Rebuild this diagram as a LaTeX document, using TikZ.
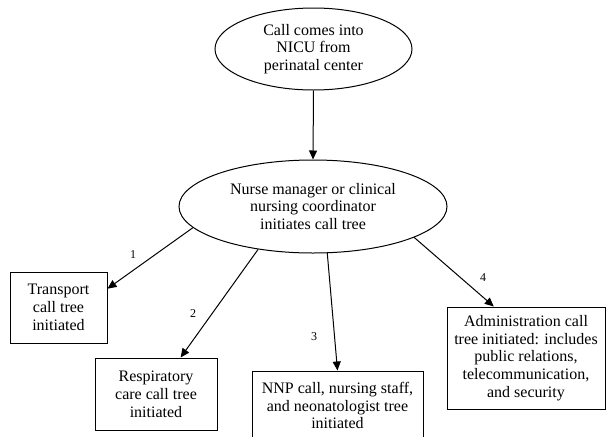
\documentclass[tikz,border=0pt]{standalone}
\usepackage{fontspec}
\setmainfont{Liberation Serif}
\usetikzlibrary{shapes.geometric,arrows.meta}
\begin{document}
\begin{tikzpicture}[x=1pt,y=-1pt,
  every node/.style={font=\fontsize{16}{17.8}\selectfont, align=center, inner sep=0pt},
  oval/.style={draw, ellipse, line width=1pt},
  box/.style={draw, rectangle, line width=1pt},
  num/.style={font=\fontsize{12}{14}\selectfont},
  conn/.style={line width=1pt, -{Triangle[length=9pt,width=8pt]}}]
\useasboundingbox (0,0) rectangle (606,437);
\node[oval, minimum width=197pt, minimum height=82pt] (e1) at (313.5,49) {Call comes into\\NICU from\\perinatal center};
\node[oval, minimum width=268pt, minimum height=93pt] (e2) at (313,206.5) {Nurse manager or clinical\\nursing coordinator\\initiates call tree};
\node[box, minimum width=97pt, minimum height=71pt] (t) at (58.5,307.5) {Transport\\call tree\\initiated};
\node[box, minimum width=122pt, minimum height=72pt] (r) at (156,394) {Respiratory\\care call tree\\initiated};
\node[box, minimum width=171pt, minimum height=69pt] (n) at (337.5,405.5) {NNP call, nursing staff,\\and neonatologist tree\\initiated};
\node[box, minimum width=158pt, minimum height=102pt] (a) at (526,358) {Administration call\\tree initiated: includes\\public relations,\\telecommunication,\\and security};
\node[num] (l1) at (133,255) {1};
\node[num] (l2) at (193,314) {2};
\node[num] (l3) at (314,337) {3};
\node[num] (l4) at (483,278) {4};
\draw[conn] (e1.south) -- (e2.north);
\draw[conn] (e2.190) -- (t.21);
\draw[conn] (e2.218) -- (r.56);
\draw[conn] (e2.287) -- (n.north);
\draw[conn] (e2.343) -- (a.122);
\end{tikzpicture}
\end{document}
